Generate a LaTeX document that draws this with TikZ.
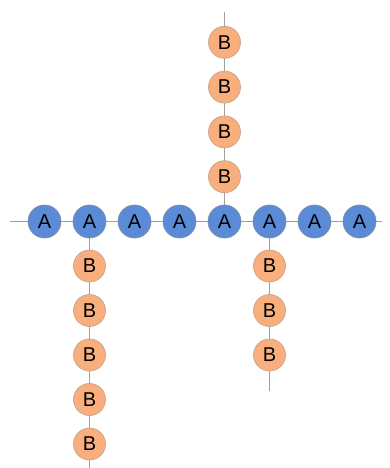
\documentclass[tikz,border=0pt]{standalone}
\usepackage{fontspec}
\setmainfont{Liberation Sans}
\usetikzlibrary{backgrounds}
\definecolor{afill}{HTML}{5B8AD6}
\definecolor{aedge}{HTML}{7F8FA8}
\definecolor{bfill}{HTML}{F9AE7D}
\definecolor{bedge}{HTML}{C9A48A}
\definecolor{linec}{HTML}{A0A0A0}
\begin{document}
\begin{tikzpicture}[x=1pt,y=1pt,
  anode/.style={circle,fill=afill,draw=aedge,line width=0.7pt,minimum size=33pt,inner sep=0pt,font=\fontsize{20}{22}\selectfont},
  bnode/.style={circle,fill=bfill,draw=bedge,line width=0.7pt,minimum size=32pt,inner sep=0pt,font=\fontsize{20}{22}\selectfont},
  conn/.style={draw=linec,line width=1.5pt}]
\useasboundingbox (0,0) rectangle (390,-468);
% A chain
\foreach \i in {0,...,7} {
  \node[anode] (a\i) at ({44.5+45*\i},-221.5) {A};
}
% B up from a4
\foreach \k in {1,...,4} {
  \node[bnode] (u\k) at (224.5,{-221.5+44.8*\k}) {B};
}
% B down from a1
\foreach \k in {1,...,5} {
  \node[bnode] (d\k) at (89.5,{-221.5-44.5*\k}) {B};
}
% B down from a5
\foreach \k in {1,...,3} {
  \node[bnode] (e\k) at (269.5,{-221.5-44.5*\k}) {B};
}
\coordinate (hl) at (10,-221.5);
\coordinate (hr) at (382,-221.5);
\coordinate (ut) at (224.5,-12);
\coordinate (db) at (89.5,-468);
\coordinate (eb) at (269.5,-391);
\begin{scope}[on background layer]
  \draw[conn] (hl) -- (a0.center) -- (a1.center) -- (a2.center) -- (a3.center)
     -- (a4.center) -- (a5.center) -- (a6.center) -- (a7.center) -- (hr);
  \draw[conn] (a4.center) -- (u1.center) -- (u2.center) -- (u3.center) -- (u4.center) -- (ut);
  \draw[conn] (a1.center) -- (d1.center) -- (d2.center) -- (d3.center) -- (d4.center) -- (d5.center) -- (db);
  \draw[conn] (a5.center) -- (e1.center) -- (e2.center) -- (e3.center) -- (eb);
\end{scope}
\end{tikzpicture}
\end{document}
